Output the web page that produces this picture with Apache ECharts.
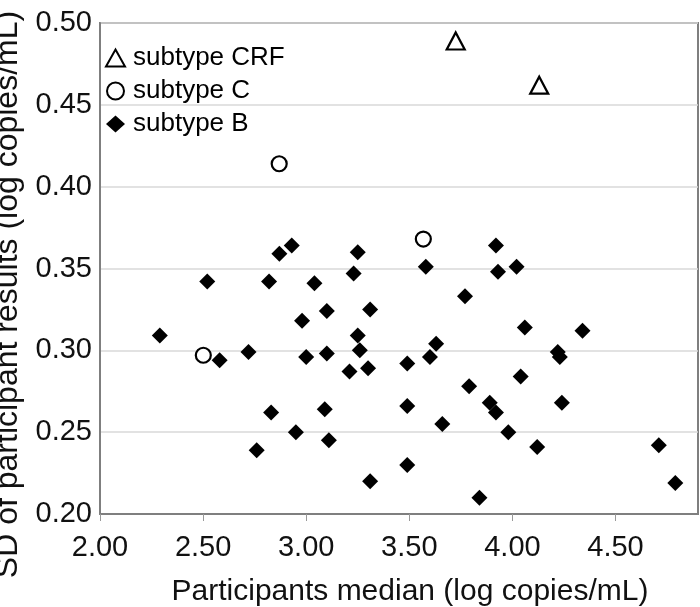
<!DOCTYPE html>
<html>
<head>
<meta charset="utf-8">
<script src="https://cdn.jsdelivr.net/npm/echarts@6/dist/echarts.min.js"></script>
<style>html,body{margin:0;padding:0;background:#fff}#c{width:700px;height:607px}</style>
</head>
<body>
<div id="c"></div>
<script>
var subtypeCRF = [[3.725,0.489],[4.130,0.462]];
var subtypeC = [[2.869,0.414],[3.568,0.368],[2.501,0.297]];
var subtypeB = [
  [2.93,0.364],[2.87,0.359],[3.25,0.360],[2.52,0.342],[2.82,0.342],[3.04,0.341],
  [3.23,0.347],[3.10,0.324],[2.98,0.318],[3.31,0.325],[2.29,0.309],[3.25,0.309],
  [2.58,0.294],[2.72,0.299],[3.00,0.296],[3.10,0.298],[3.26,0.300],[3.21,0.287],
  [3.30,0.289],[3.49,0.292],[3.58,0.351],[3.92,0.364],[3.93,0.348],[4.02,0.351],
  [3.77,0.333],[4.06,0.314],[4.34,0.312],[3.63,0.304],[3.60,0.296],[4.22,0.299],
  [4.23,0.296],[2.83,0.262],[3.09,0.264],[2.95,0.250],[3.11,0.245],[2.76,0.239],
  [3.31,0.220],[3.49,0.266],[3.49,0.230],[3.79,0.278],[4.04,0.284],[3.89,0.268],
  [3.92,0.262],[4.24,0.268],[3.66,0.255],[3.98,0.250],[4.12,0.241],[4.71,0.242],
  [4.79,0.219],[3.84,0.210]
];
var xTicks = [2.0,2.5,3.0,3.5,4.0,4.5];
var yTicks = [0.20,0.25,0.30,0.35,0.40,0.45,0.50];
var xTitle = 'Participants median (log copies/mL)';
var yTitle = 'SD of participant results (log copies/mL)';
var seriesNames = ['subtype CRF','subtype C','subtype B'];

var FONT = 'Liberation Sans, Arial, sans-serif';
var chart = echarts.init(document.getElementById('c'), null, {renderer:'canvas'});
chart.setOption({
  animation: false,
  backgroundColor: '#ffffff',
  grid: {left: 100, top: 23, right: 2, bottom: 93, show: true, borderColor: '#7f7f7f', borderWidth: 2,
         containLabel: false, outerBoundsMode: 'none'},
  legend: {
    orient: 'vertical', left: 100, top: 40, itemWidth: 19, itemHeight: 17, itemGap: 7,
    data: seriesNames,
    textStyle: {fontFamily: FONT, fontSize: 26, color: '#000', padding: [0,0,0,3]}
  },
  xAxis: {
    type: 'value', min: 2.0, max: 4.9,
    name: xTitle, nameLocation: 'middle', nameGap: 63,
    nameTextStyle: {fontFamily: FONT, fontSize: 30, color: '#111', padding: [0,0,0,22]},
    axisLine: {show: true, lineStyle: {color: '#7f7f7f', width: 2}},
    axisTick: {show: true, length: 7, lineStyle: {color: '#999'}, customValues: xTicks},
    axisLabel: {fontFamily: FONT, fontSize: 29, color: '#111', margin: 19, customValues: xTicks,
      formatter: function(v){return v.toFixed(2);}},
    splitLine: {show: false}
  },
  yAxis: {
    type: 'value', min: 0.2, max: 0.5, interval: 0.05,
    name: yTitle, nameLocation: 'middle', nameGap: 64,
    nameTextStyle: {fontFamily: FONT, fontSize: 32, color: '#111', padding: [0,52,0,0]},
    axisLine: {show: true, lineStyle: {color: '#7f7f7f', width: 2}},
    axisTick: {show: false},
    axisLabel: {fontFamily: FONT, fontSize: 29, color: '#111', margin: 8,
      formatter: function(v){return v.toFixed(2);}},
    splitLine: {show: true, lineStyle: {color: '#d9d9d9', width: 1.5}}
  },
  series: [
    {name: seriesNames[0], type: 'scatter', data: subtypeCRF, symbol: 'triangle', symbolSize: [18,17],
     itemStyle: {color: '#fff', borderColor: '#000', borderWidth: 2.2, opacity: 1}, z: 3},
    {name: seriesNames[1], type: 'scatter', data: subtypeC, symbol: 'circle', symbolSize: 15,
     itemStyle: {color: '#fff', borderColor: '#000', borderWidth: 2.2, opacity: 1}, z: 3},
    {name: seriesNames[2], type: 'scatter', data: subtypeB, symbol: 'diamond', symbolSize: 16,
     itemStyle: {color: '#000', opacity: 1}, z: 2}
  ]
});
</script>
</body>
</html>
